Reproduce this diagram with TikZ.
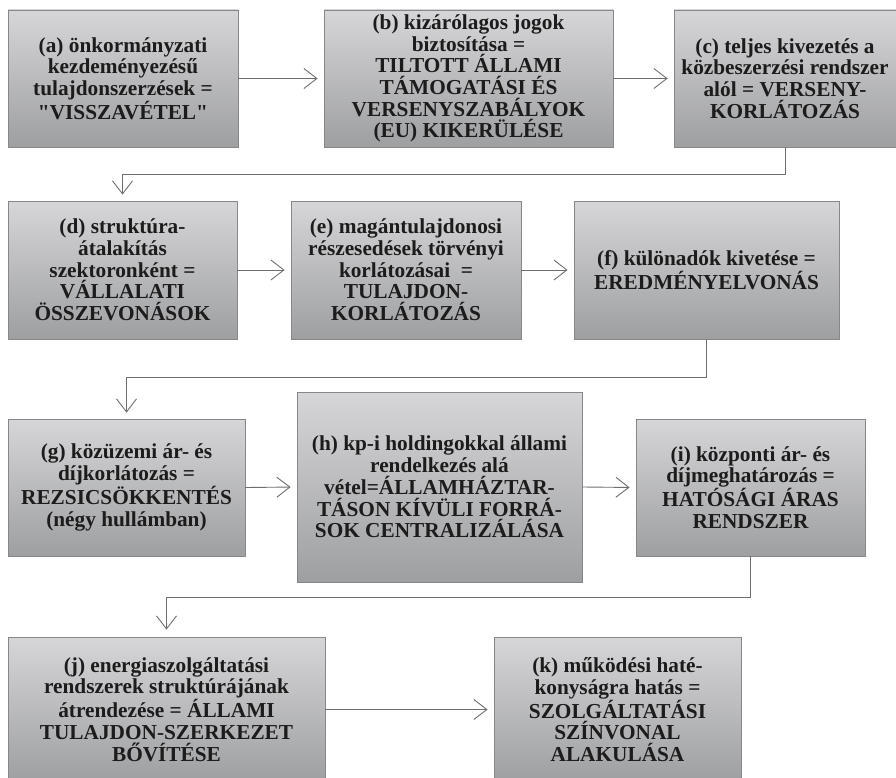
\documentclass[tikz,border=0pt]{standalone}
\usepackage{fontspec}
\setmainfont{Liberation Serif}
\newfontfamily\plainserif{Liberation Serif}
\newcommand{\sq}{{\plainserif\bfseries"}}
\usetikzlibrary{arrows.meta}
\definecolor{boxtop}{RGB}{214,214,216}
\definecolor{boxbot}{RGB}{158,159,161}
\definecolor{boxline}{RGB}{135,135,137}
\definecolor{txt}{RGB}{28,28,28}
\definecolor{conn}{RGB}{110,110,110}
\tikzset{
  box/.style={draw=boxline, line width=0.8pt, top color=boxtop, bottom color=boxbot,
    align=center, inner sep=2pt, text=txt,
    font=\fontsize{21.3}{21.7}\selectfont\bfseries},
  arr/.style={draw=conn, line width=0.9pt, -{Straight Barb[length=13pt,width=20pt]}, shorten >=6pt}
}
\begin{document}
\begin{tikzpicture}[x=1pt,y=1pt]
\useasboundingbox (0,0) rectangle (896,-778);
% row 1
\node[box, minimum width=230, minimum height=137] (a) at (123,-78.5)
  {(a) önkormányzati\\kezdeményezésű\\tulajdonszerzések =\\\sq VISSZAVÉTEL\sq};
\node[box, minimum width=289, minimum height=137] (b) at (468.5,-78.5)
  {(b) kizárólagos jogok\\biztosítása =\\TILTOTT ÁLLAMI\\TÁMOGATÁSI ÉS\\VERSENYSZABÁLYOK\\(EU) KIKERÜLÉSE};
\node[box, minimum width=222, minimum height=137] (c) at (785,-78.5)
  {(c) teljes kivezetés a\\közbeszerzési rendszer\\alól = VERSENY-\\KORLÁTOZÁS};
% row 2
\node[box, minimum width=229, minimum height=138] (d) at (122.5,-270)
  {(d) struktúra-\\átalakítás\\szektoronként =\\VÁLLALATI\\ÖSSZEVONÁSOK};
\node[box, minimum width=230, minimum height=138] (e) at (406,-270)
  {(e) magántulajdonosi\\részesedések törvényi\\korlátozásai \ =\\TULAJDON-\\KORLÁTOZÁS};
\node[box, minimum width=265, minimum height=138] (f) at (706.5,-270)
  {(f) különadók kivetése =\\EREDMÉNYELVONÁS};
% row 3
\node[box, minimum width=237, minimum height=137] (g) at (126.5,-487.5)
  {(g) közüzemi ár- és\\díjkorlátozás =\\REZSICSÖKKENTÉS\\(négy hullámban)};
\node[box, minimum width=285, minimum height=190] (h) at (439.5,-487)
  {(h) kp-i holdingokkal állami\\rendelkezés alá\\vétel=ÁLLAMHÁZTAR-\\TÁSON KÍVÜLI FORRÁ-\\SOK CENTRALIZÁLÁSA};
\node[box, minimum width=229, minimum height=137] (i) at (750.5,-487.5)
  {(i) központi ár- és\\díjmeghatározás =\\HATÓSÁGI ÁRAS\\RENDSZER};
% row 4
\node[box, minimum width=317, minimum height=145] (j) at (166.5,-709.5)
  {(j) energiaszolgáltatási\\rendszerek struktúrájának\\átrendezése = ÁLLAMI\\TULAJDON-SZERKEZET\\BŐVÍTÉSE};
\node[box, minimum width=247, minimum height=145] (k) at (617.5,-709.5)
  {(k) működési haté-\\konyságra hatás =\\SZOLGÁLTATÁSI\\SZÍNVONAL\\ALAKULÁSA};
% connectors
\draw[arr] (a.east) -- (b.west);
\draw[arr] (b.east) -- (c.west);
\draw[arr] (c.south) -- ++(0,-27) -| (d.north);
\draw[arr] (d.east) -- (e.west);
\draw[arr] (e.east) -- (f.west);
\draw[arr] (f.south) -- ++(0,-38) -| (g.north);
\draw[arr] (g.east) -- (h.west);
\draw[arr] (h.east) -- (i.west);
\draw[arr, shorten >=7pt] (i.south) -- ++(0,-41) -| (j.north);
\draw[arr] (j.east) -- (k.west);
\end{tikzpicture}
\end{document}
